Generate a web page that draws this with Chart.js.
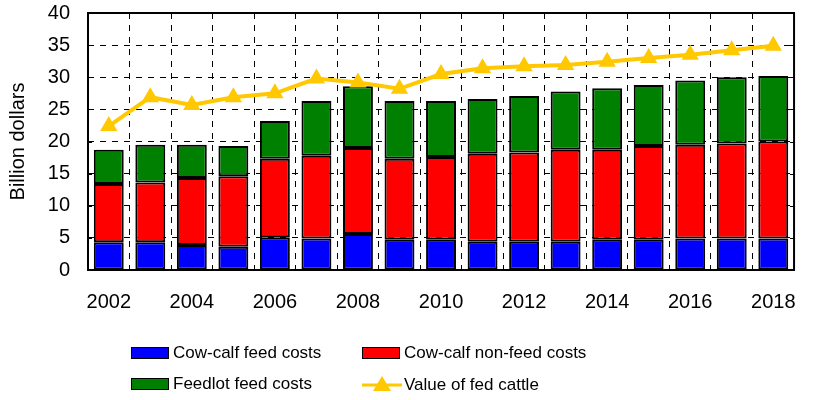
<!DOCTYPE html>
<html>
<head>
<meta charset="utf-8">
<script src="https://cdn.jsdelivr.net/npm/chart.js@4.4.1/dist/chart.umd.min.js"></script>
<style>
  body { margin: 0; background: #fff; font-family: "Liberation Sans", Arial, sans-serif; }
  #wrap { position: relative; width: 816px; height: 400px; }
  #legend { position: absolute; left: 0; top: 0; width: 816px; height: 400px; pointer-events: none; }
  .item { position: absolute; font-size: 17px; color: #000; display: flex; align-items: center; white-space: nowrap; }
  .box { width: 36px; height: 10px; border: 1px solid #000; margin-right: 4px; }
</style>
</head>
<body>
<div id="wrap">
  <canvas id="cattleChart" width="816" height="330"></canvas>
  <div id="legend"></div>
</div>
<script>
const years = ['2002', '2003', '2004', '2005', '2006', '2007', '2008', '2009', '2010',
    '2011', '2012', '2013', '2014', '2015', '2016', '2017', '2018'];

// billion dollars, stacked pieces
const cowCalfFeed = [4.3, 4.3, 3.9, 3.6, 5.1, 4.9, 5.6, 4.7, 4.7, 4.4, 4.4, 4.4, 4.7, 4.7, 4.9, 4.9, 4.9];
const cowCalfNonFeed = [9.1, 9.3, 10.4, 11.0, 12.2, 12.9, 13.4, 12.6, 12.9, 13.7, 13.9, 14.3, 14.0, 14.6, 14.6, 14.8, 15.1];
const feedlotFeed = [5.3, 5.9, 5.2, 4.7, 5.9, 8.5, 9.6, 9.0, 8.7, 8.5, 8.8, 9.1, 9.6, 9.5, 10.0, 10.3, 10.2];
const fedCattleValue = [22.4, 26.9, 25.7, 26.9, 27.5, 29.8, 29.2, 28.2, 30.5, 31.4, 31.7, 31.9, 32.4, 33.0, 33.5, 34.2, 34.9];

const yTicks = [0, 5, 10, 15, 20, 25, 30, 35, 40];

const FONT = { family: '"Liberation Sans", Arial, sans-serif', size: 20 };

const barStyle = {
    borderColor: '#000',
    borderWidth: 2,
    borderSkipped: false,
    barPercentage: 0.72,
    categoryPercentage: 1.0,
    stack: 'costs',
    order: 1,
};

// solid frame round the plot plus short inward ticks on the y axis
const frame = {
    id: 'frame',
    afterDatasetsDraw(chart) {
        const a = chart.chartArea;
        const ctx = chart.ctx;
        const y = chart.scales.y;
        ctx.save();
        ctx.strokeStyle = '#000';
        ctx.lineWidth = 2;
        ctx.strokeRect(a.left, a.top, a.right - a.left, a.bottom - a.top);
        ctx.lineWidth = 1;
        yTicks.forEach(v => {
            const py = Math.round(y.getPixelForValue(v)) + 0.5;
            ctx.beginPath();
            ctx.moveTo(a.left, py); ctx.lineTo(a.left + 4, py);
            ctx.moveTo(a.right, py); ctx.lineTo(a.right - 4, py);
            ctx.stroke();
        });
        ctx.restore();
    }
};

const config = {
    type: 'bar',
    data: {
        labels: years,
        datasets: [
            Object.assign({ label: 'Cow-calf feed costs', data: cowCalfFeed, backgroundColor: '#0000ff' }, barStyle),
            Object.assign({ label: 'Cow-calf non-feed costs', data: cowCalfNonFeed, backgroundColor: '#ff0000' }, barStyle),
            Object.assign({ label: 'Feedlot feed costs', data: feedlotFeed, backgroundColor: '#008000' }, barStyle),
            {
                type: 'line',
                label: 'Value of fed cattle',
                data: fedCattleValue,
                borderColor: '#ffc800',
                backgroundColor: '#ffc800',
                borderWidth: 4,
                pointStyle: 'triangle',
                pointRadius: 10,
                pointBorderWidth: 0,
                stack: 'value',
                order: 0,
            },
        ]
    },
    options: {
        responsive: false,
        animation: false,
        layout: { padding: { top: 13, right: 16, left: 0, bottom: 0 } },
        plugins: {
            legend: { display: false },
            tooltip: { enabled: false },
        },
        scales: {
            x: {
                stacked: true,
                offset: true,
                grid: { color: '#000', lineWidth: 1, offset: true, drawTicks: false },
                border: { display: false, dash: [6, 6] },
                ticks: {
                    color: '#000',
                    font: FONT,
                    padding: 20,
                    autoSkip: false,
                    maxRotation: 0,
                    callback: (v, i) => (i % 2 === 0 ? years[i] : ''),
                },
                afterFit: (s) => { s.height = 60; },
            },
            y: {
                stacked: true,
                min: 0,
                max: 40,
                afterBuildTicks: (s) => { s.ticks = yTicks.map(v => ({ value: v })); },
                grid: { color: '#000', lineWidth: 1, drawTicks: true, tickLength: 17, tickColor: 'rgba(0,0,0,0)' },
                border: { display: false, dash: [6, 6] },
                ticks: { color: '#000', font: FONT, padding: 1 },
                title: { display: true, text: 'Billion dollars', color: '#000', font: FONT, padding: { top: 6, bottom: 0 } },
                afterFit: (s) => { s.width = 88; },
            },
        },
    },
    plugins: [frame],
};

const cattleChart = new Chart(document.getElementById('cattleChart'), config);

// legend, two columns below the plot
const legendEl = document.getElementById('legend');
const spots = [[131, 354], [362, 354], [131, 385], [362, 385]];
config.data.datasets.forEach((ds, i) => {
    const item = document.createElement('div');
    item.className = 'item';
    item.style.left = spots[i][0] + 'px';
    item.style.top = (spots[i][1] - 11) + 'px';
    let mark;
    if (ds.type === 'line') {
        mark = '<svg width="40" height="22" style="margin-right:2px"><line x1="0" y1="11" x2="40" y2="11" stroke="' + ds.borderColor + '" stroke-width="3"/>' +
            '<polygon points="20,2 29,17 11,17" fill="' + ds.borderColor + '"/></svg>';
    } else {
        mark = '<div class="box" style="background:' + ds.backgroundColor + '"></div>';
    }
    item.innerHTML = mark + '<span>' + ds.label + '</span>';
    legendEl.appendChild(item);
});
</script>
</body>
</html>
